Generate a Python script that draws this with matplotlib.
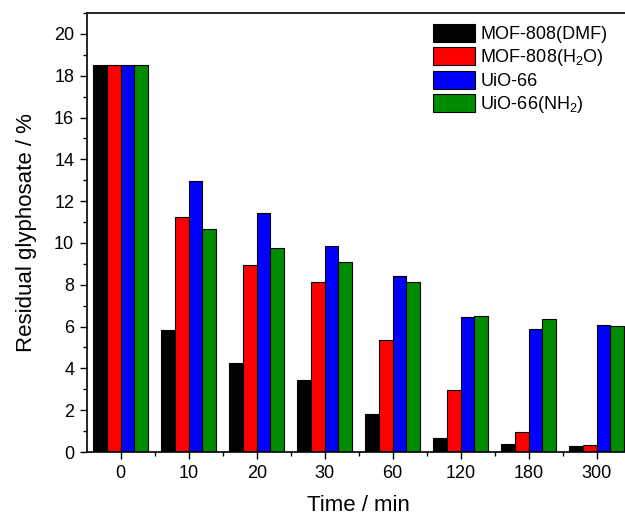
#!/usr/bin/env python3

import numpy as np
import matplotlib
matplotlib.use('Agg')
import matplotlib.pyplot as plt
from matplotlib.ticker import MultipleLocator, FixedLocator

plt.rcParams['font.family'] = ['Liberation Sans', 'DejaVu Sans']
plt.rcParams['mathtext.fontset'] = 'custom'
plt.rcParams['mathtext.rm'] = 'Liberation Sans'
plt.rcParams['mathtext.it'] = 'Liberation Sans:italic'

# residual glyphosate (%) vs contact time
times = ['0', '10', '20', '30', '60', '120', '180', '300']
mof808_dmf = [18.5, 5.84, 4.27, 3.43, 1.80, 0.65, 0.38, 0.30]
mof808_h2o = [18.5, 11.23, 8.93, 8.12, 5.36, 2.95, 0.96, 0.33]
uio66 = [18.5, 12.98, 11.45, 9.87, 8.41, 6.44, 5.90, 6.06]
uio66_nh2 = [18.5, 10.69, 9.78, 9.11, 8.12, 6.51, 6.38, 6.01]

series = [
    (mof808_dmf, 'MOF-808(DMF)', '#000000'),
    (mof808_h2o, 'MOF-808(H$_2$O)', '#ff0000'),
    (uio66, 'UiO-66', '#0000ff'),
    (uio66_nh2, 'UiO-66(NH$_2$)', '#008c00'),
]

fig = plt.figure(figsize=(6.25, 5.18), dpi=100)
# right spine sits just past the figure edge, like the cropped original
ax = fig.add_axes([0.1387, 0.1274, 0.8704, 0.8475])

x = np.arange(len(times))
w = 0.2
for i, (vals, lab, col) in enumerate(series):
    ax.bar(x + (i - 1.5) * w, vals, w, color=col, edgecolor='black',
           linewidth=0.8, label=lab)

ax.set_xlim(-0.5, 7.5)
ax.set_ylim(0, 21)
ax.set_xticks(x)
ax.set_xticklabels(times)
ax.xaxis.set_minor_locator(FixedLocator(x[:-1] + 0.5))
ax.yaxis.set_major_locator(MultipleLocator(2))
ax.yaxis.set_minor_locator(MultipleLocator(1))
ax.tick_params(which='both', direction='out', top=False, right=False,
               labelsize=13, width=1)
ax.tick_params(which='major', length=5, pad=4)
ax.tick_params(which='minor', length=3)
for s in ax.spines.values():
    s.set_linewidth(1.2)

ax.set_xlabel('Time / min', fontsize=16, labelpad=10)
ax.set_ylabel('Residual glyphosate / %', fontsize=16, labelpad=12)

ax.legend(loc='upper left', bbox_to_anchor=(0.6933, 0.9537),
          bbox_transform=fig.transFigure, frameon=False, fontsize=13,
          borderpad=0, borderaxespad=0, handlelength=2.3, handleheight=1.15,
          labelspacing=0.2, handletextpad=0.3)

fig.savefig('out.png', dpi=100)
